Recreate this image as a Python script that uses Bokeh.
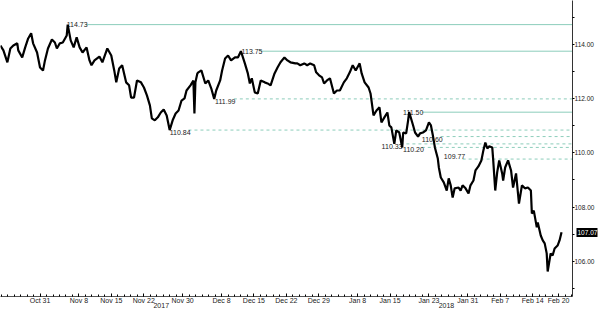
from bokeh.plotting import figure
from bokeh.models import Range1d, LinearAxis, FixedTicker, NumeralTickFormatter
from bokeh.embed import file_html
from bokeh.resources import INLINE
from bokeh.core.properties import value

# business-day index (0 = Oct 31, 2017) and USD/JPY price
days = [-6.11, -5.65, -5.04, -4.58, -4.12, -3.51, -3.36, -2.75, -2.29, -1.83, -1.37, -1.07, -0.46,
        0.00, 0.46, 0.76, 1.22, 1.83, 2.29, 2.60, 3.05, 3.51, 4.12, 4.27, 4.73, 5.19, 5.65, 6.11,
        6.56, 7.18, 7.63, 7.94, 8.40, 9.16, 9.62, 10.38, 10.99, 11.45, 11.76, 12.21, 12.67, 13.28,
        13.74, 14.05, 14.50, 14.96, 15.57, 16.03, 16.49, 16.95, 17.25, 17.71, 18.17, 18.63, 19.08,
        19.54, 20.00, 20.46, 20.92, 21.37, 21.83, 22.29, 22.60, 23.21, 23.66, 23.82, 23.97, 24.27,
        24.43, 24.89, 25.50, 25.95, 26.41, 26.87, 27.18, 27.79, 28.09, 28.55, 29.01, 29.47, 30.08,
        30.53, 30.99, 31.60, 32.06, 32.37, 32.67, 33.13, 33.59, 34.05, 34.66, 35.11, 35.57, 36.18,
        36.64, 37.10, 37.71, 38.17, 38.63, 39.39, 39.69, 40.15, 40.76, 41.22, 41.68, 42.29, 42.60,
        43.05, 43.51, 43.82, 44.27, 44.73, 45.34, 45.80, 46.26, 46.87, 47.33, 47.79, 48.24, 48.70,
        49.31, 49.62, 50.08, 50.69, 50.99, 51.45, 51.91, 52.37, 52.67, 53.13, 53.59, 53.89, 54.20,
        54.66, 54.96, 55.42, 55.88, 56.03, 56.49, 56.79, 56.95, 57.56, 57.86, 58.32, 58.63, 59.08,
        59.54, 60.00, 60.31, 60.61, 60.92, 61.37, 61.53, 61.83, 62.29, 62.75, 63.05, 63.36, 63.66,
        63.97, 64.58, 64.89, 65.19, 65.65, 66.11, 66.41, 66.87, 67.18, 67.63, 68.09, 68.40, 68.70,
        69.01, 69.31, 69.77, 69.92, 70.23, 70.53, 70.84, 71.30, 71.45, 71.76, 72.21, 72.67, 72.98,
        73.44, 73.74, 73.89, 74.35, 74.81, 75.27, 75.73, 75.88, 76.18, 76.64, 76.79, 77.25, 77.56,
        77.86, 78.17, 78.32, 78.78, 79.08, 79.39, 79.85, 80.15, 80.46]
prices = [113.96, 113.78, 113.34, 113.85, 113.96, 114.04, 113.78, 113.52, 113.89, 114.22, 114.41, 114.04, 113.70,
          113.15, 113.04, 113.41, 113.85, 114.18, 114.07, 113.85, 114.04, 114.07, 114.33, 114.73, 114.15, 113.89, 114.26, 113.89,
          113.70, 113.89, 113.41, 113.23, 113.41, 113.55, 113.34, 113.85, 113.59, 113.04, 112.60, 113.11, 113.23, 112.60,
          112.49, 112.04, 112.04, 112.67, 112.60, 112.41, 112.12, 111.75, 111.27, 111.20, 111.31, 111.49, 111.60,
          111.38, 110.84, 111.20, 111.45, 111.56, 111.93, 112.01, 112.30, 112.49, 112.67, 111.45, 112.60, 112.93,
          112.97, 113.04, 112.56, 112.67, 112.38, 111.99, 112.30, 112.67, 113.04, 113.48, 113.59, 113.41, 113.52,
          113.52, 113.75, 113.30, 112.93, 112.56, 112.75, 112.23, 112.19, 112.67, 112.60, 112.56, 112.49, 112.93,
          113.15, 113.34, 113.52, 113.41, 113.34, 113.30, 113.30, 113.23, 113.30, 113.23, 113.30, 113.23, 112.97,
          112.86, 112.78, 112.56, 112.67, 112.75, 112.19, 112.30, 112.30, 112.60, 112.75, 112.97, 113.23, 113.04,
          113.30, 112.93, 112.60, 112.41, 112.19, 111.38, 111.56, 111.68, 111.12, 111.31, 111.49, 111.01, 110.94,
          110.33, 110.83, 110.75, 110.20, 110.75, 110.72, 111.20, 111.50, 111.01, 110.75, 110.60, 110.72, 110.75,
          110.83, 111.12, 111.01, 110.64, 110.20, 109.79, 109.46, 109.09, 108.91, 108.61, 109.06, 108.80, 108.35,
          108.69, 108.72, 108.61, 108.80, 108.69, 108.50, 108.80, 108.98, 109.35, 109.50, 109.72, 110.09, 110.38,
          110.16, 110.24, 110.20, 109.72, 108.61, 109.28, 109.72, 109.24, 108.98, 109.46, 109.72, 109.35, 108.72,
          109.24, 108.50, 108.13, 108.80, 108.69, 108.72, 108.61, 107.76, 107.87, 107.25, 107.43, 106.95, 106.77,
          106.66, 106.29, 105.62, 106.29, 106.21, 106.47, 106.58, 106.77, 107.07]

tick_days = [0, 6, 11, 16, 22, 28, 33, 38, 43, 49, 54, 60, 66, 71, 76, 80]
tick_labels = ["Oct 31", "Nov 8", "Nov 15", "Nov 22", "Nov 30", "Dec 8", "Dec 15", "Dec 22",
               "Dec 29", "Jan 8", "Jan 15", "Jan 23", "Jan 31", "Feb 7", "Feb 14", "Feb 20"]
year_days = [18.7, 62.7]
year_labels = ["2017", "2018"]
price_ticks = [106, 108, 110, 112, 114]
price_minor_ticks = [105, 107, 109, 111, 113, 115]

level_values = [114.73, 113.75, 111.99, 110.84, 111.50, 110.33, 110.20, 110.60, 109.77]
level_label_days = [4.12, 31.1, 27.0, 20.0, 56.0, 52.7, 56.0, 58.9, 62.3]
level_kind = ["high", "high", "low", "low", "high", "low", "low", "low", "above"]
last_price = 107.07

X0, X1 = -6.1, 82.15
FONT = "Liberation Sans"
LEVEL_COLOR = "#8ccdbb"
LABEL_W = 2.9  # label width in days

p = figure(width=600, height=310, x_range=Range1d(X0, X1), y_range=Range1d(104.7, 115.62),
           output_backend="svg", toolbar_location=None, y_axis_location="right",
           min_border_left=0, min_border_top=0, min_border_right=0, min_border_bottom=0)
p.outline_line_color = None
p.grid.visible = False
p.background_fill_color = "white"

# level lines
solid_x0, solid_y, dash_x0, dash_y = [], [], [], []
for v, d, k in zip(level_values, level_label_days, level_kind):
    if k == "high":
        solid_x0.append(d + LABEL_W); solid_y.append(v)
    else:
        dash_x0.append(d + LABEL_W); dash_y.append(v)
p.segment(x0=solid_x0, y0=solid_y, x1=[X1] * len(solid_y), y1=solid_y, line_color=LEVEL_COLOR, line_width=1)
p.segment(x0=dash_x0, y0=dash_y, x1=[X1] * len(dash_y), y1=dash_y, line_color=LEVEL_COLOR, line_width=1,
          line_dash="3 3")

baselines = {"high": "middle", "low": "top", "above": "bottom"}
for v, d, k in zip(level_values, level_label_days, level_kind):
    p.text(x=[d], y=[v], text=[f"{v:.2f}"], text_font=value(FONT), text_font_size="7px",
           text_color="#222222", text_align="left", text_baseline=baselines[k])

p.line(days, prices, line_color="black", line_width=2.2)

# x axis
xa = p.xaxis[0]
xa.ticker = FixedTicker(ticks=tick_days, minor_ticks=list(range(-6, 83)))
xa.major_label_overrides = {d: t for d, t in zip(tick_days, tick_labels)}
xa.major_label_text_font = FONT
xa.major_label_text_font_size = "7px"
xa.major_label_text_color = "#222222"
xa.major_label_standoff = 0
xa.major_tick_in = 3
xa.major_tick_out = 0
xa.minor_tick_in = 2
xa.minor_tick_out = 0
xa.axis_line_color = "#555555"

yax = p.yaxis[0]
yax.ticker = FixedTicker(ticks=price_ticks, minor_ticks=price_minor_ticks)
yax.formatter = NumeralTickFormatter(format="0.00")
yax.major_label_text_font = FONT
yax.major_label_text_font_size = "6.5px"
yax.major_label_text_color = "#222222"
yax.major_label_standoff = 0
yax.major_tick_in = 0
yax.major_tick_out = 2
yax.minor_tick_in = 0
yax.minor_tick_out = 2
yax.axis_line_color = "#333333"

ya2 = LinearAxis(ticker=FixedTicker(ticks=year_days))
ya2.major_label_overrides = {d: t for d, t in zip(year_days, year_labels)}
ya2.axis_line_color = None
ya2.major_tick_line_color = None
ya2.minor_tick_line_color = None
ya2.major_tick_in = 0
ya2.major_tick_out = 0
ya2.major_label_standoff = -4
ya2.major_label_text_font = FONT
ya2.major_label_text_font_size = "7px"
ya2.major_label_text_color = "#222222"
p.add_layout(ya2, "below")

# last-price tag on the price axis: a thick black tick as the box, white label on top
ya3 = LinearAxis(ticker=FixedTicker(ticks=[last_price]), formatter=NumeralTickFormatter(format="0.00"))
ya3.axis_line_color = None
ya3.minor_tick_line_color = None
ya3.major_tick_in = 21
ya3.major_tick_out = 0
ya3.major_tick_line_width = 9
ya3.major_tick_line_color = "black"
ya3.major_label_standoff = -20
ya3.major_label_text_font = FONT
ya3.major_label_text_font_size = "6.5px"
ya3.major_label_text_color = "white"
p.add_layout(ya3, "right")

open("out.html", "w").write(file_html(p, INLINE))
